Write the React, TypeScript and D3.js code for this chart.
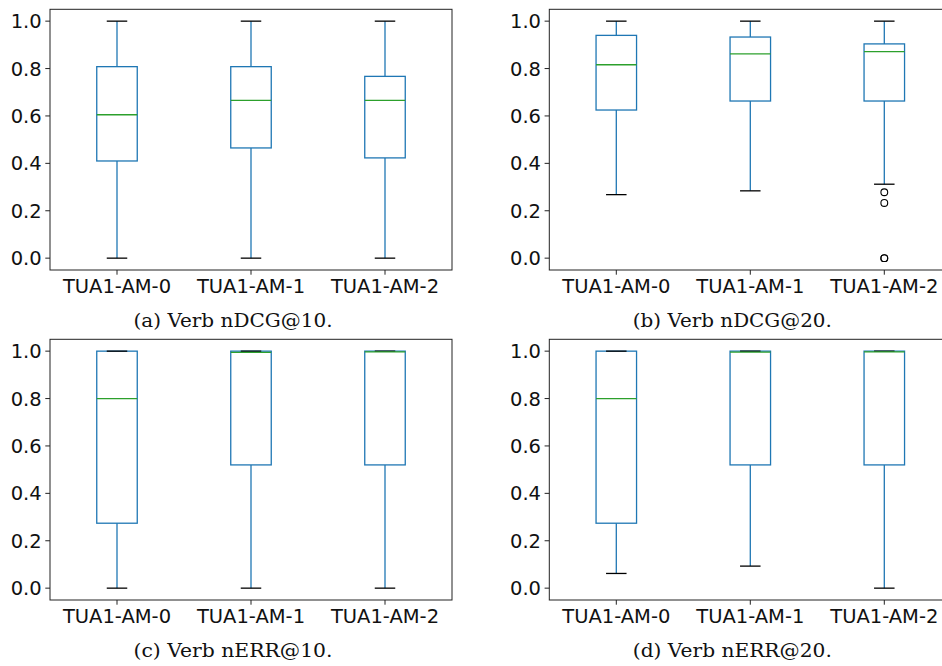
import React from "react";
import * as d3 from "d3";

// data: [lowWhisker, q1, median, q3, highWhisker]
const categories = ["TUA1-AM-0", "TUA1-AM-1", "TUA1-AM-2"];
const captions = ["(a) Verb nDCG@10.", "(b) Verb nDCG@20.", "(c) Verb nERR@10.", "(d) Verb nERR@20."];
const yTicks = [0.0, 0.2, 0.4, 0.6, 0.8, 1.0];

const ndcg10 = [
  [0.0, 0.41, 0.605, 0.808, 1.0],
  [0.0, 0.465, 0.666, 0.808, 1.0],
  [0.0, 0.423, 0.666, 0.767, 1.0],
];
const ndcg20 = [
  [0.268, 0.625, 0.816, 0.94, 1.0],
  [0.284, 0.663, 0.862, 0.933, 1.0],
  [0.312, 0.663, 0.871, 0.904, 1.0],
];
const nerr10 = [
  [0.0, 0.274, 0.8, 1.0, 1.0],
  [0.0, 0.52, 0.995, 1.0, 1.0],
  [0.0, 0.52, 0.997, 1.0, 1.0],
];
const nerr20 = [
  [0.062, 0.274, 0.8, 1.0, 1.0],
  [0.093, 0.52, 0.996, 1.0, 1.0],
  [0.0, 0.52, 0.997, 1.0, 1.0],
];
const ndcg20Outliers = [[], [], [0.278, 0.233, 0.0, 0.0]];
const noOutliers = [[], [], []];

const panels = [
  { stats: ndcg10, outliers: noOutliers, ox: 0, oy: 0 },
  { stats: ndcg20, outliers: ndcg20Outliers, ox: 499.3, oy: 0 },
  { stats: nerr10, outliers: noOutliers, ox: 0, oy: 330 },
  { stats: nerr20, outliers: noOutliers, ox: 499.3, oy: 330 },
];

const plot = { left: 50, right: 452, top: 9.3, bottom: 270 };
const blue = "#1f77b4";
const green = "#2ca02c";
const sans = "'DejaVu Sans', sans-serif";

const x = d3.scalePoint<string>().domain(categories).range([plot.left, plot.right]).padding(0.5);
const y = d3.scaleLinear().domain([-0.05, 1.05]).range([plot.bottom, plot.top]);
const boxW = 40.5;
const capW = 20.5;

function Panel({ stats, outliers, ox, oy, caption }: any) {
  return (
    <g transform={`translate(${ox},${oy})`}>
      {stats.map((s: number[], i: number) => {
        const cx = x(categories[i])!;
        const [lo, q1, med, q3, hi] = s;
        return (
          <g key={i}>
            <line x1={cx} x2={cx} y1={y(q1)} y2={y(lo)} stroke={blue} strokeWidth={1.3} />
            <line x1={cx} x2={cx} y1={y(q3)} y2={y(hi)} stroke={blue} strokeWidth={1.3} />
            <rect x={cx - boxW / 2} y={y(q3)} width={boxW} height={y(q1) - y(q3)} fill="none" stroke={blue} strokeWidth={1.3} />
            <line x1={cx - capW / 2} x2={cx + capW / 2} y1={y(lo)} y2={y(lo)} stroke="#000" strokeWidth={1.3} />
            <line x1={cx - capW / 2} x2={cx + capW / 2} y1={y(hi)} y2={y(hi)} stroke="#000" strokeWidth={1.3} />
            <line x1={cx - boxW / 2} x2={cx + boxW / 2} y1={y(med)} y2={y(med)} stroke={green} strokeWidth={1.3} />
            {outliers[i].map((v: number, j: number) => (
              <circle key={j} cx={cx} cy={y(v)} r={3.4} fill="none" stroke="#000" strokeWidth={1.1} />
            ))}
          </g>
        );
      })}
      <rect x={plot.left} y={plot.top} width={plot.right - plot.left} height={plot.bottom - plot.top} fill="none" stroke="#222" strokeWidth={1} />
      {yTicks.map((t) => (
        <g key={t}>
          <line x1={plot.left - 4.7} x2={plot.left} y1={y(t)} y2={y(t)} stroke="#222" strokeWidth={1} />
          <text x={plot.left - 8.3} y={y(t)} dy="0.36em" textAnchor="end" fontFamily={sans} fontSize={19.5} fill="#111">
            {t.toFixed(1)}
          </text>
        </g>
      ))}
      {categories.map((c) => (
        <g key={c}>
          <line x1={x(c)} x2={x(c)} y1={plot.bottom} y2={plot.bottom + 4.7} stroke="#222" strokeWidth={1} />
          <text x={x(c)} y={293.3} textAnchor="middle" fontFamily={sans} fontSize={19.5} fill="#111">
            {c}
          </text>
        </g>
      ))}
      <text x={233} y={327} textAnchor="middle" fontFamily="'DejaVu Serif', serif" fontSize={18} textLength={199} lengthAdjust="spacingAndGlyphs" fill="#111">
        {caption}
      </text>
    </g>
  );
}

export default function App() {
  return (
    <svg width={942} height={666} style={{ position: "absolute", left: 0, top: 0, background: "#fff" }}>
      {panels.map((p, i) => (
        <Panel key={i} {...p} caption={captions[i]} />
      ))}
    </svg>
  );
}
